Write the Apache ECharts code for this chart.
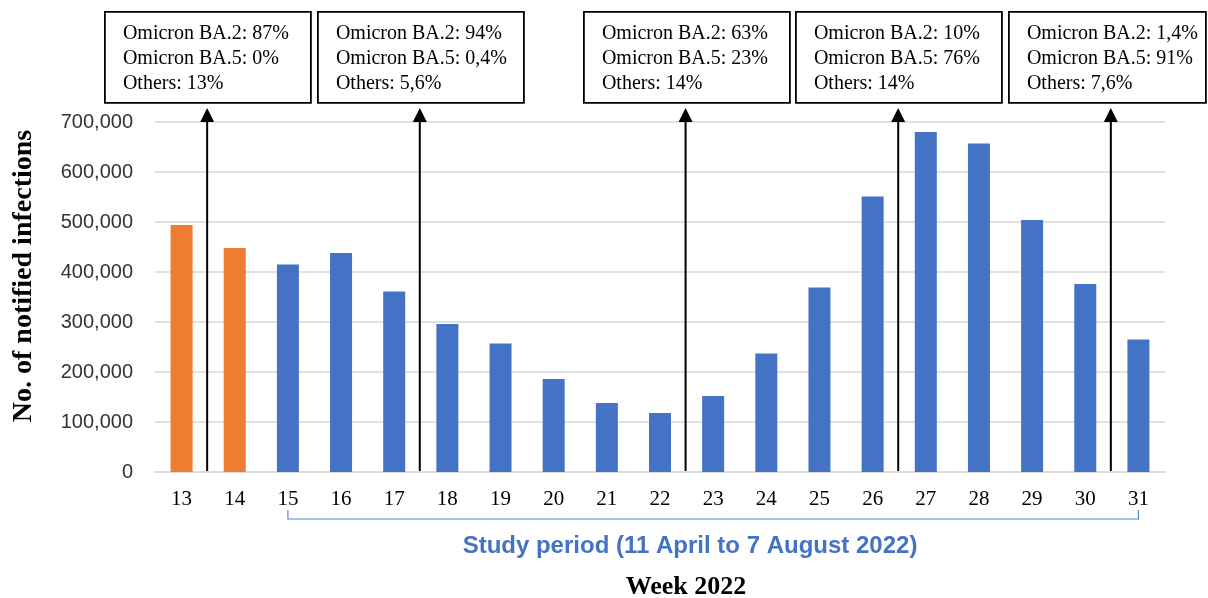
<!DOCTYPE html>
<html>
<head>
<meta charset="utf-8">
<script src="https://cdn.jsdelivr.net/npm/echarts@6/dist/echarts.min.js"></script>
<style>
  html, body { margin: 0; padding: 0; background: #fff; }
  #chart { width: 1208px; height: 598px; }
</style>
</head>
<body>
<div id="chart"></div>
<script>
// weekly notified infections, 2022
const weeks = ['13', '14', '15', '16', '17', '18', '19', '20', '21', '22', '23', '24', '25', '26', '27', '28', '29', '30', '31'];
const infections = [494000, 448000, 415000, 438000, 361000, 296000, 257000, 186000, 138000, 118000, 152000, 237000, 369000, 551000, 680000, 657000, 504000, 376000, 265000];
const studyFirstWeek = '15';
const studyLastWeek = '31';

// variant share annotations: arrow drawn right after the given week
const variantWeeks = ['13', '17', '22', '26', '30'];
const ba2Share = ['87%', '94%', '63%', '10%', '1,4%'];
const ba5Share = ['0%', '0,4%', '23%', '76%', '91%'];
const otherShare = ['13%', '5,6%', '14%', '14%', '7,6%'];

const yMax = 700000;
const yStep = 100000;

const orange = '#ED7D31';
const blue = '#4472C4';

let chart = echarts.init(document.getElementById('chart'));

let barData = infections.map((v, i) => ({
  value: v,
  itemStyle: { color: weeks.indexOf(weeks[i]) < weeks.indexOf(studyFirstWeek) ? orange : blue }
}));

let option = {
  animation: false,
  grid: { left: 155, right: 43, top: 122, bottom: 126 },
  xAxis: {
    type: 'category',
    data: weeks,
    axisTick: { show: false },
    axisLine: { lineStyle: { color: '#d9d9d9', width: 1.5 } },
    axisLabel: { margin: 17, fontFamily: 'Liberation Serif', fontSize: 21, color: '#000' }
  },
  yAxis: {
    type: 'value',
    min: 0,
    max: yMax,
    interval: yStep,
    axisLabel: {
      margin: 22,
      fontFamily: 'Liberation Sans',
      fontSize: 20,
      color: '#333',
      formatter: v => v.toLocaleString('en-US')
    },
    splitLine: { lineStyle: { color: '#d9d9d9', width: 1.5 } }
  },
  series: [{
    type: 'bar',
    data: barData,
    barWidth: 22
  }]
};
chart.setOption(option);

function px(week, value) {
  return chart.convertToPixel({ xAxisIndex: 0, yAxisIndex: 0 }, [week, value]);
}

function buildGraphics() {
  let g = [];
  let base = px(weeks[0], 0)[1];
  let top = px(weeks[0], yMax)[1];
  let tipY = top - 14;

  variantWeeks.forEach((w, i) => {
    let next = weeks[weeks.indexOf(w) + 1];
    let ax = (px(w, 0)[0] + px(next, 0)[0]) / 2 - 1;
    // arrow
    g.push({ type: 'line', shape: { x1: ax, y1: base - 1, x2: ax, y2: tipY + 10 }, style: { stroke: '#000', lineWidth: 2 }, z: 10 });
    g.push({ type: 'polygon', shape: { points: [[ax, tipY], [ax - 7, tipY + 14], [ax + 7, tipY + 14]] }, style: { fill: '#000' }, z: 10 });
    // box
    let left = Math.round(ax - 103);
    let right = Math.min(Math.round(ax + 103), 1205);
    g.push({
      type: 'group', left: left, top: 11, z: 11,
      children: [
        { type: 'rect', shape: { x: 0, y: 0, width: right - left, height: 91 }, style: { fill: '#fff', stroke: '#000', lineWidth: 1.8 } },
        {
          type: 'text', x: 18, y: 9,
          style: {
            text: 'Omicron BA.2: ' + ba2Share[i] + '\nOmicron BA.5: ' + ba5Share[i] + '\nOthers: ' + otherShare[i],
            font: '20px "Liberation Serif"',
            lineHeight: 25,
            fill: '#000'
          }
        }
      ]
    });
  });

  // study period bracket under the week labels
  let x1 = px(studyFirstWeek, 0)[0];
  let x2 = px(studyLastWeek, 0)[0];
  g.push({
    type: 'polyline',
    shape: { points: [[x1, 510], [x1, 519], [x2, 519], [x2, 510]] },
    style: { stroke: '#5B84D2', lineWidth: 1.2, fill: null }
  });
  g.push({
    type: 'text', x: 690, y: 546,
    style: { text: 'Study period (11 April to 7 August 2022)', font: 'bold 24px "Liberation Sans"', fill: blue, align: 'center', verticalAlign: 'middle' }
  });
  g.push({
    type: 'text', x: 686, y: 587,
    style: { text: 'Week 2022', font: 'bold 26px "Liberation Serif"', fill: '#000', align: 'center', verticalAlign: 'middle' }
  });
  g.push({
    type: 'text', x: 24, y: 276, rotation: Math.PI / 2,
    style: { text: 'No. of notified infections', font: 'bold 28px "Liberation Serif"', fill: '#000', align: 'center', verticalAlign: 'middle' }
  });
  chart.setOption({ graphic: g });
}
buildGraphics();

window.addEventListener('resize', function () {
  chart.resize();
  buildGraphics();
});
</script>
</body>
</html>
